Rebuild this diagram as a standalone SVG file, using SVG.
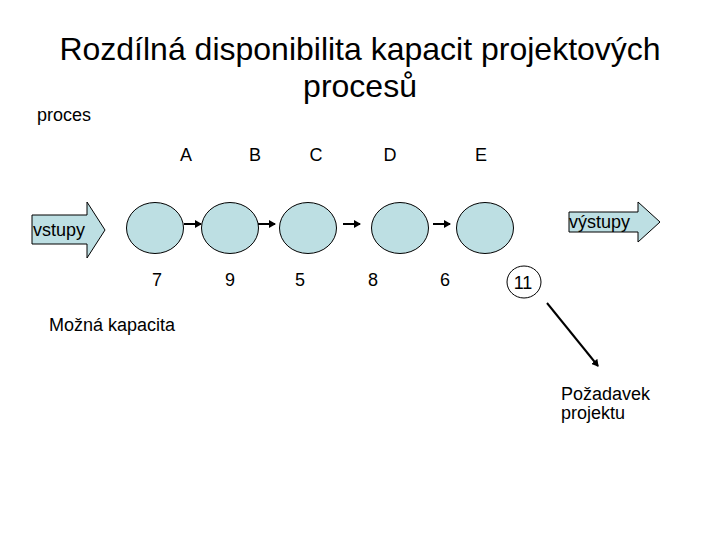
<svg xmlns="http://www.w3.org/2000/svg" width="720" height="540" viewBox="0 0 720 540">
<style>
text{font-family:"Liberation Sans",Arial,sans-serif;fill:#000}
.t{font-size:32px;text-anchor:middle}
.s{font-size:18px}
.m{font-size:18px;text-anchor:middle}
.node{fill:#bddfe3;stroke:#000;stroke-width:1}
.big{fill:#bddfe3;stroke:#000;stroke-width:1}
.con{stroke:#000;stroke-width:2;fill:none}
</style>
<defs>
<marker id="ah" markerWidth="8" markerHeight="8" refX="6" refY="4" orient="auto" markerUnits="userSpaceOnUse">
<path d="M0,0 L7,4 L0,8 Z" fill="#000"/>
</marker>
</defs>
<rect width="720" height="540" fill="#fff"/>
<text class="t" x="360" y="60">Rozdílná disponibilita kapacit projektových</text>
<text class="t" x="360" y="97">procesů</text>
<text class="s" x="37" y="121">proces</text>
<g id="labels">
<text class="m" x="186" y="161">A</text>
<text class="m" x="255" y="161">B</text>
<text class="m" x="316" y="161">C</text>
<text class="m" x="390" y="161">D</text>
<text class="m" x="481" y="161">E</text>
</g>
<g id="vstupy">
<path class="big" d="M32,215 H87 V202 L105,230 L87,258 V244 H32 Z"/>
<text class="s" x="33" y="236">vstupy</text>
</g>
<g id="vystupy">
<path class="big" d="M569,212 H638 V202 L660,222 L638,242 V232 H569 Z"/>
<text class="s" x="569" y="228">výstupy</text>
</g>
<g id="nodeA"><ellipse class="node" cx="155" cy="228" rx="28.5" ry="25.5"/></g>
<g id="nodeB"><ellipse class="node" cx="230" cy="228" rx="28.5" ry="25.5"/></g>
<g id="nodeC"><ellipse class="node" cx="308" cy="228" rx="28.5" ry="25.5"/></g>
<g id="nodeD"><ellipse class="node" cx="400" cy="228" rx="28.5" ry="25.5"/></g>
<g id="nodeE"><ellipse class="node" cx="485" cy="228" rx="28.5" ry="25.5"/></g>
<g id="connectors">
<line class="con" x1="184" y1="224" x2="201" y2="224" marker-end="url(#ah)"/>
<line class="con" x1="258" y1="224" x2="275" y2="224" marker-end="url(#ah)"/>
<line class="con" x1="343" y1="224" x2="360" y2="224" marker-end="url(#ah)"/>
<line class="con" x1="433" y1="224" x2="450" y2="224" marker-end="url(#ah)"/>
<line class="con" x1="547" y1="303" x2="598" y2="366" marker-end="url(#ah)"/>
</g>
<g id="numbers">
<text class="m" x="157" y="286">7</text>
<text class="m" x="230" y="286">9</text>
<text class="m" x="300" y="286">5</text>
<text class="m" x="373" y="286">8</text>
<text class="m" x="445" y="286">6</text>
</g>
<g id="req11">
<ellipse cx="524" cy="282" rx="17" ry="16" fill="none" stroke="#000" stroke-width="1"/>
<text class="m" x="523" y="289">11</text>
</g>
<text class="s" x="49" y="331">Možná kapacita</text>
<g id="pozadavek">
<text class="s" x="561" y="400">Požadavek</text>
<text class="s" x="561" y="419">projektu</text>
</g>
</svg>
